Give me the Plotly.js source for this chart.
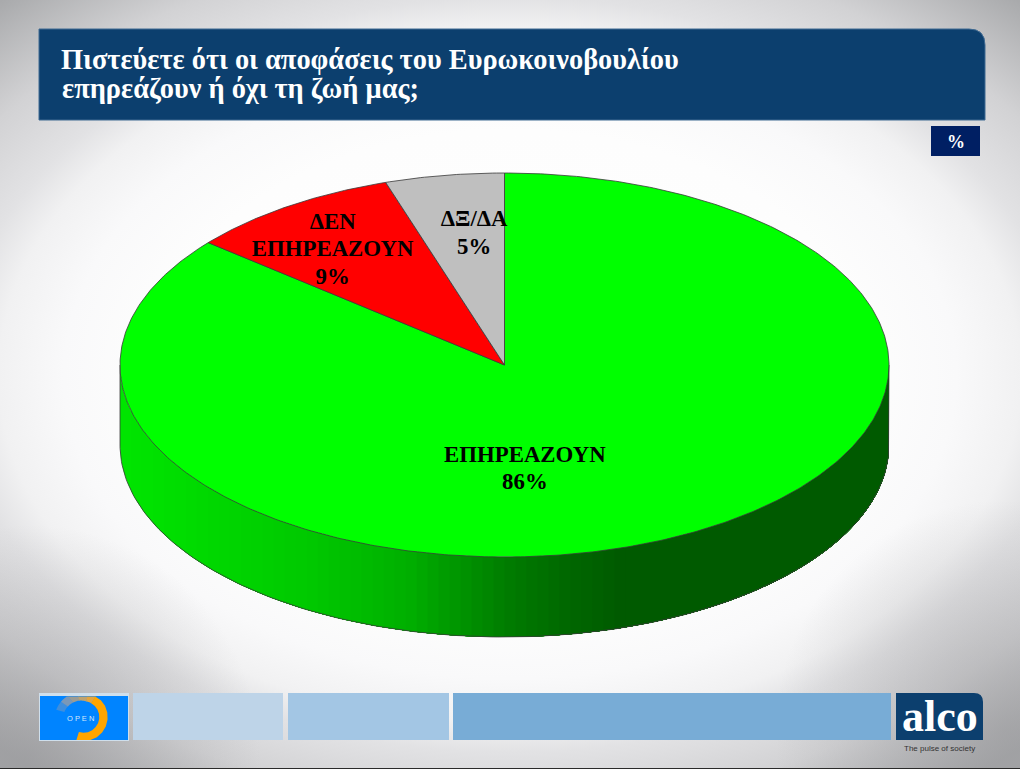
<!DOCTYPE html>
<html>
<head>
<meta charset="utf-8">
<script src="https://cdn.plot.ly/plotly-3.0.1.min.js"></script>
<style>
html,body{margin:0;padding:0;width:1020px;height:769px;overflow:hidden}
body{background:
  radial-gradient(circle 230px at 30px 755px,rgba(150,150,153,.55),rgba(150,150,153,0)),
  radial-gradient(circle 230px at 1005px 730px,rgba(150,150,153,.5),rgba(150,150,153,0)),
  radial-gradient(ellipse 720px 490px at 510px 375px,#ffffff 0%,#fdfdfd 50%,#f9f9fa 62%,#f1f1f2 71%,#e2e2e4 77%,#d2d2d4 88%,#a9aaac 104%)}
#chart{width:1020px;height:769px}
</style>
</head>
<body>
<div id="chart"></div>
<script>
// ---- data ----
const categories = ["ΕΠΗΡΕΑΖΟΥΝ", "ΔΕΝ<br>ΕΠΗΡΕΑΖΟΥΝ", "ΔΞ/ΔΑ"];
const values = [86, 9, 5];
const sliceColors = ["#00ff00", "#ff0000", "#bfbfbf"];
const titleLines = ["Πιστεύετε ότι οι αποφάσεις του Ευρωκοινοβουλίου", "επηρεάζουν ή όχι τη ζωή μας;"];
const unitLabel = "%";

// ---- geometry of the tilted pie, in pixels of the 1020x769 page ----
const W = 1020, H = 769;
const CX = 504.5, CY = 365, RX = 384.5, RY = 192, DEPTH = 80;
const xAxisRange = [-CX / RX, (W - CX) / RX];
const yAxisRange = [(CY - H) / RY, CY / RY];
const depthU = DEPTH / RY;
const labelPos = [[0.053, -0.475], [-0.447, 0.737], [-0.079, 0.752]];
const labelLineGap = 27.3 / RY;
const EDGE = "#3a3a3a", FONT = "Liberation Serif, serif";

const traces = [];

// side wall: bands painted left to right, each covering everything to its right
const shadeStops = [[-1, 230], [-0.75, 215], [-0.5, 200], [-0.25, 175], [0, 125], [0.15, 105], [0.3, 90], [1, 90]];
function shade(u) {
  for (let i = 1; i < shadeStops.length; i++) {
    const a = shadeStops[i - 1], b = shadeStops[i];
    if (u <= b[0]) return Math.round(a[1] + (b[1] - a[1]) * (u - a[0]) / (b[0] - a[0]));
  }
  return 90;
}
const BANDS = 70;
for (let i = 0; i < BANDS; i++) {
  const u0 = -1 + 2 * i / BANDS;
  if (u0 > 0.32) break;
  const xs = [], ys = [], STEPS = 90, t0 = Math.acos(u0);
  for (let k = 0; k <= STEPS; k++) {
    const t = t0 * (1 - k / STEPS);
    xs.push(Math.cos(t)); ys.push(-Math.sin(t));
  }
  for (let k = STEPS; k >= 0; k--) {
    const t = t0 * (1 - k / STEPS);
    xs.push(Math.cos(t)); ys.push(-Math.sin(t) - depthU);
  }
  const c = `rgb(0,${shade(u0 + 1 / BANDS)},0)`;
  traces.push({type: "scatter", mode: "none", x: xs, y: ys, fill: "toself", fillcolor: c,
    hoverinfo: "skip", showlegend: false});
}
// outline of the side wall
(function () {
  const xs = [1], ys = [0];
  for (let a = 0; a <= 180; a += 1) {
    const t = a * Math.PI / 180;
    xs.push(Math.cos(t)); ys.push(-Math.sin(t) - depthU);
  }
  xs.push(-1); ys.push(0);
  traces.push({type: "scatter", mode: "lines", x: xs, y: ys,
    line: {color: EDGE, width: 0.8}, hoverinfo: "skip", showlegend: false});
})();

// top face: slices clockwise from 12 o'clock, sized from the values
const total = values.reduce((s, v) => s + v, 0);
let acc = 0;
values.forEach((v, i) => {
  const start = acc / total * 2 * Math.PI, end = (acc + v) / total * 2 * Math.PI;
  acc += v;
  const xs = [0], ys = [0];
  const n = Math.max(12, Math.round(v * 6));
  for (let k = 0; k <= n; k++) {
    const t = start + (end - start) * k / n;
    xs.push(Math.sin(t)); ys.push(Math.cos(t));
  }
  xs.push(0); ys.push(0);
  traces.push({type: "scatter", mode: "lines", x: xs, y: ys, fill: "toself", fillcolor: sliceColors[i],
    line: {color: EDGE, width: 0.8}, name: categories[i].replace("<br>", " "),
    hovertemplate: categories[i] + ": " + v + "%<extra></extra>", showlegend: false});
});

// data labels
values.forEach((v, i) => {
  const lines = categories[i].split("<br>").concat([v + "%"]);
  traces.push({type: "scatter", mode: "text",
    x: lines.map(() => labelPos[i][0]),
    y: lines.map((_, k) => labelPos[i][1] - k * labelLineGap),
    text: lines, textposition: "middle center",
    textfont: {family: FONT, size: 22.8, color: "#000000", weight: 700},
    hoverinfo: "skip", showlegend: false});
});

// ---- slide decoration ----
const NAVY = "#0c3f6e";
function rect(x0, y0, x1, y1, fill, line) {
  return {type: "rect", xref: "paper", yref: "paper", layer: "below",
    x0: x0 / W, x1: x1 / W, y0: 1 - y1 / H, y1: 1 - y0 / H,
    fillcolor: fill, line: line ? {color: line, width: 1} : {width: 0}};
}
const px = x => (x - CX) / RX, py = y => (CY - y) / RY;
function rounded(x0, y0, x1, y1, r, fill, line) {
  const d = `M${px(x0)},${py(y1)} L${px(x0)},${py(y0)} L${px(x1 - r)},${py(y0)} ` +
    `Q${px(x1)},${py(y0)} ${px(x1)},${py(y0 + r)} L${px(x1)},${py(y1)} Z`;
  return {type: "path", xref: "x", yref: "y", layer: "below", path: d,
    fillcolor: fill, line: line ? {color: line, width: 1} : {width: 0}};
}
// logo ring, clipped to the blue box
function ringSeg(a0, a1, r0, r1, color) {
  const cx = 83.5, cy = 717, half = 4.2, segs = 10, outer = [], inner = [];
  for (let k = 0; k <= segs; k++) {
    const f = k / segs, t = (a0 + (a1 - a0) * f) * Math.PI / 180, r = r0 + (r1 - r0) * f;
    const clamp = y => Math.min(740, Math.max(696.5, y));
    outer.push(px(cx + (r + half) * Math.sin(t)) + "," + py(clamp(cy - (r + half) * Math.cos(t))));
    inner.unshift(px(cx + (r - half) * Math.sin(t)) + "," + py(clamp(cy - (r - half) * Math.cos(t))));
  }
  return {type: "path", xref: "x", yref: "y", layer: "below",
    path: "M" + outer.concat(inner).join(" L") + " Z", fillcolor: color, line: {width: 0}};
}
const shapes = [
  rounded(39, 29, 985, 120, 16, NAVY, "#3f6a92"),
  rect(931, 126, 980, 156, "#001f63"),
  rect(39, 693, 129, 741, "#cfdfec"),
  rect(40, 696, 128, 740, "#0084ff"),
  rect(133, 693, 283, 740, "#bed4e8"),
  rect(288, 693, 449, 740, "#a3c6e4"),
  rect(453, 693, 891, 740, "#78acd6"),
  rounded(896, 693, 983, 740, 9, NAVY),
  rect(0, 768, 1020, 769, "#2a2a2a"),
  ringSeg(-75, -55, 24, 23, "#3f8edc"),
  ringSeg(-56, -35, 23, 22, "#7a98b8"),
  ringSeg(-36, -12, 22, 21, "#9c9c94"),
  ringSeg(-13, 10, 21, 20, "#bfa370"),
  ringSeg(9, 30, 20, 20, "#e3a640"),
  ringSeg(29, 197, 20, 20, "#ffa500")
];

const annotations = [
  {xref: "paper", yref: "paper", x: 61 / W, y: 1 - 88.5 / H, text: "<b>" + titleLines[1] + "</b>", showarrow: false,
    font: {family: FONT, size: 28.4, color: "#ffffff"}, xanchor: "left", yanchor: "middle", xshift: -1},
  {xref: "paper", yref: "paper", x: 955.5 / W, y: 1 - 142 / H, text: "<b>" + unitLabel + "</b>", showarrow: false,
    font: {family: FONT, size: 18, color: "#ffffff"}, xanchor: "center", yanchor: "middle"},
  {xref: "paper", yref: "paper", x: 80.5 / W, y: 1 - 718 / H, text: "O P E N", showarrow: false,
    font: {family: "Liberation Sans, sans-serif", size: 7.5, color: "#d5e7fb"}, xanchor: "center", yanchor: "middle"},
  {xref: "paper", yref: "paper", x: 939.5 / W, y: 1 - 716 / H, text: "<b>alco</b>", showarrow: false,
    font: {family: FONT, size: 44, color: "#ffffff"}, xanchor: "center", yanchor: "middle"},
  {xref: "paper", yref: "paper", x: 939 / W, y: 1 - 748.5 / H, text: "The pulse of society", showarrow: false,
    font: {family: "Liberation Sans, sans-serif", size: 8, color: "#333333"}, xanchor: "center", yanchor: "middle"}
];

const layout = {
  width: W, height: H,
  margin: {l: 0, r: 0, t: 0, b: 0, pad: 0},
  paper_bgcolor: "rgba(0,0,0,0)", plot_bgcolor: "rgba(0,0,0,0)",
  xaxis: {range: xAxisRange, visible: false, fixedrange: true},
  yaxis: {range: yAxisRange, visible: false, fixedrange: true},
  title: {text: "<b>" + titleLines[0] + "</b>", x: 61 / W, xanchor: "left", xref: "paper",
    y: 1 - 59 / H, yanchor: "middle", yref: "paper",
    font: {family: FONT, size: 28.4, color: "#ffffff"}},
  shapes: shapes, annotations: annotations, showlegend: false, hovermode: "closest"
};
Plotly.newPlot("chart", traces, layout, {displayModeBar: false, responsive: false});
</script>
</body>
</html>
